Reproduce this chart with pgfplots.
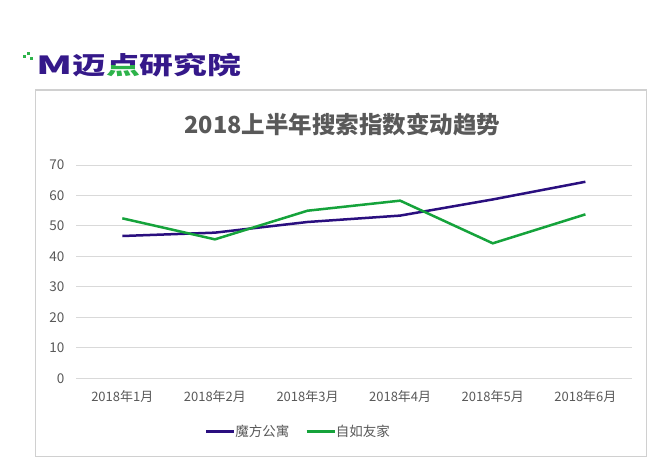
\documentclass[border=0pt]{standalone}
\usepackage{pgfplots}
\pgfplotsset{compat=1.18}
\usepackage{fontspec}
\setmainfont{Noto Sans CJK SC}
\definecolor{lpurple}{HTML}{2A0F7F}
\definecolor{lgreen}{HTML}{15A33B}
\definecolor{logopurple}{HTML}{35198A}
\definecolor{logogreen}{HTML}{2DB34A}
\definecolor{txtgray}{HTML}{595959}
\definecolor{gridgray}{HTML}{D9D9D9}
\definecolor{framegray}{HTML}{D0D0D0}
\begin{document}
\begin{tikzpicture}[x=1pt,y=1pt]
\useasboundingbox (0,0) rectangle (650,458);
\fill[white] (0,0) rectangle (650,458);
% frame
\draw[framegray, line width=1.2pt] (35.5,1.5) rectangle (646.5,368);
% logo
\fill[logogreen] (23,400) rectangle (26,403);
\fill[logogreen] (27,403) rectangle (30,406);
\fill[logogreen] (30,398) rectangle (33,401);
\node[anchor=west, inner sep=0pt, text=logopurple, xscale=1.65] at (36,393) {\fontsize{25}{27}\selectfont\bfseries M};
\node[anchor=west, inner sep=0pt, text=logopurple, xscale=1.38] at (72,392.5) {\fontsize{24.5}{26}\selectfont\bfseries 迈\phantom{点}研究院};
\begin{scope}
\clip (100,380) rectangle (150,393);
\node[anchor=west, inner sep=0pt, text=logogreen, xscale=1.38] at (72,392.5) {\fontsize{24.5}{26}\selectfont\bfseries \phantom{迈}点\phantom{研究院}};
\end{scope}
\begin{scope}
\clip (100,393) rectangle (150,420);
\node[anchor=west, inner sep=0pt, text=logopurple, xscale=1.38] at (72,392.5) {\fontsize{24.5}{26}\selectfont\bfseries \phantom{迈}点\phantom{研究院}};
\end{scope}
% title
\node[text=txtgray] at (342.5,333) {\fontsize{23.5}{27}\selectfont\bfseries 2018上半年搜索指数变动趋势};
\begin{axis}[
  at={(76pt,79.7pt)}, anchor=south west,
  scale only axis, width=555.7pt, height=213.3pt,
  xmin=-0.5, xmax=5.5, ymin=0, ymax=70,
  xtick={0,...,5},
  xticklabels={2018年1月,2018年2月,2018年3月,2018年4月,2018年5月,2018年6月},
  ytick={0,10,...,70},
  axis x line*=bottom, axis y line*=left,
  x axis line style={draw=gridgray, line width=1pt, -},
  y axis line style={draw=none},
  ymajorgrids, grid style={draw=gridgray, line width=1pt},
  major tick length=0pt,
  xtick style={draw=none}, ytick style={draw=none},
  extra x ticks={-0.5,0.5,1.5,2.5,3.5,4.5,5.5},
  extra x tick labels={},
  extra x tick style={major tick length=5pt, tick align=outside, grid=none, tick style={draw=gridgray, line width=1pt}},
  /pgf/number format/assume math mode=true,
  xticklabel style={font=\fontsize{13}{15}\selectfont, text=txtgray, yshift=-8.5pt},
  yticklabel style={font=\fontsize{13.5}{15}\selectfont, text=txtgray, xshift=-8pt},
  legend style={at={(0.226,-0.250)}, anchor=west, draw=none, fill=none,
    font=\fontsize{13.5}{15}\selectfont, text=txtgray, legend columns=2,
    /tikz/every even column/.append style={column sep=14pt},
    /tikz/every odd column/.append style={column sep=-2pt}},
  legend image code/.code={\draw[#1, line width=2.5pt] (0pt,0pt) -- (28pt,0pt);},
  clip=false,
]
\addplot[lpurple, line width=2.5pt] coordinates {(0,46.7) (1,47.8) (2,51.3) (3,53.4) (4,58.7) (5,64.5)};
\addlegendentry{魔方公寓}
\addplot[lgreen, line width=2.5pt] coordinates {(0,52.5) (1,45.6) (2,55.0) (3,58.3) (4,44.3) (5,53.8)};
\addlegendentry{自如友家}
\end{axis}
\end{tikzpicture}
\end{document}
